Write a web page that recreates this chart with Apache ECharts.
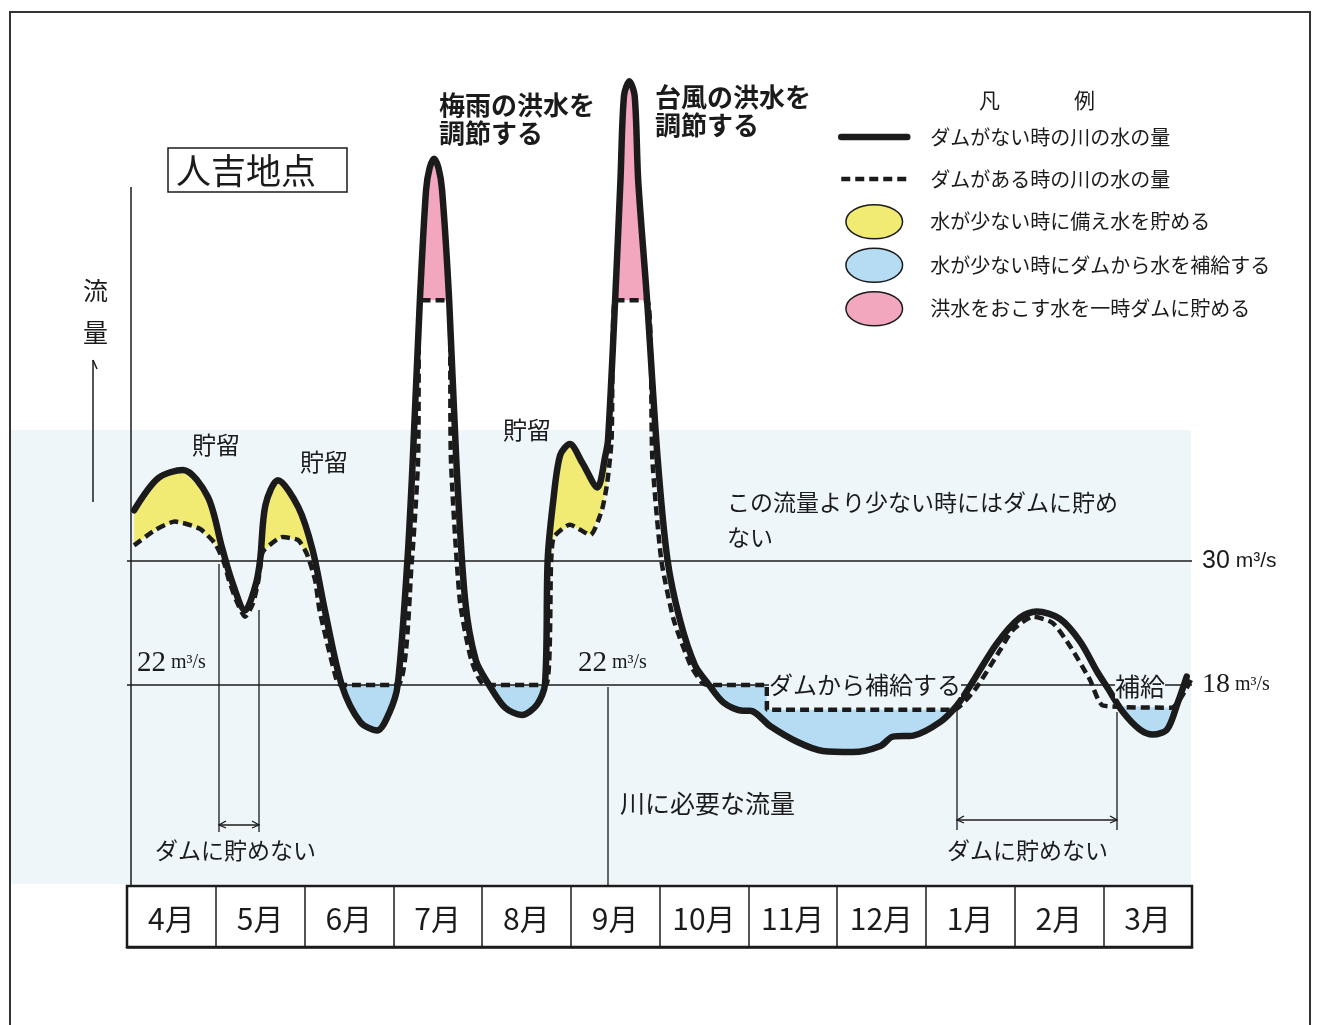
<!DOCTYPE html>
<html>
<head>
<meta charset="utf-8">
<script src="https://cdn.jsdelivr.net/npm/echarts@6/dist/echarts.min.js"></script>
<style>
  html, body { margin: 0; padding: 0; background: #fff; }
  #chart { width: 1319px; height: 1025px; }
</style>
</head>
<body>
<div id="chart"></div>
<script>
// 月の欄
const months = ['4月', '5月', '6月', '7月', '8月', '9月', '10月', '11月', '12月', '1月', '2月', '3月'];

// 横は4月始めからの月数、縦は流量（図から読み取った目安）
const noDam = [
  [0.08, 34.9], [0.35, 38.0], [0.63, 38.8], [0.91, 36.2], [1.07, 31.3], [1.18, 28.1], [1.33, 25.2],
  [1.45, 27.7], [1.50, 30.1], [1.56, 35.4], [1.70, 37.8], [1.93, 35.2], [2.09, 31.1], [2.23, 25.2],
  [2.42, 18.0], [2.63, 14.4], [2.82, 13.6], [2.96, 15.4], [3.05, 18.0], [3.16, 30.1], [3.22, 39.8],
  [3.30, 55.2], [3.37, 65.9], [3.41, 68.0], [3.46, 68.9], [3.51, 68.0], [3.55, 65.9], [3.63, 55.2],
  [3.71, 39.8], [3.81, 26.2], [3.93, 20.4], [4.08, 18.0], [4.26, 15.8], [4.45, 15.1], [4.62, 16.1],
  [4.71, 18.1], [4.74, 30.1], [4.80, 35.6], [4.88, 40.2], [4.99, 41.3], [5.13, 39.5], [5.30, 37.1],
  [5.39, 40.2], [5.42, 41.7], [5.50, 55.2], [5.56, 66.8], [5.60, 75.0], [5.66, 76.4], [5.72, 75.0],
  [5.76, 66.8], [5.86, 55.2], [5.98, 39.8], [6.09, 30.1], [6.23, 24.3], [6.40, 19.9], [6.54, 18.2],
  [6.72, 16.3], [6.94, 15.5], [7.02, 15.5], [7.25, 14.0], [7.55, 12.5], [7.84, 11.6], [8.18, 11.5],
  [8.49, 12.1], [8.63, 13.0], [8.86, 13.1], [9.16, 14.4], [9.35, 16.0], [9.50, 17.9], [9.80, 22.0],
  [10.06, 24.5], [10.25, 25.1], [10.51, 24.4], [10.74, 22.2], [10.93, 19.3], [11.05, 17.7], [11.22, 15.4],
  [11.41, 13.7], [11.56, 13.2], [11.72, 13.7], [11.84, 16.3], [11.94, 18.8]
];

const withDam = [
  [0.08, 31.5], [0.32, 33.0], [0.54, 33.8], [0.82, 33.1], [0.99, 31.7], [1.09, 29.9], [1.15, 28.1],
  [1.23, 26.2], [1.33, 24.6], [1.42, 25.9], [1.48, 28.1], [1.52, 30.6], [1.55, 31.1], [1.75, 32.3],
  [1.93, 32.0], [2.03, 30.6], [2.12, 28.1], [2.17, 25.2], [2.37, 18.2], [2.42, 18.0], [3.05, 18.0],
  [3.21, 30.1], [3.28, 39.8], [3.30, 55.2], [3.63, 55.2], [3.65, 39.8], [3.75, 26.2], [3.88, 20.4],
  [4.03, 18.0], [4.72, 18.0], [4.78, 30.1], [4.81, 32.3], [4.99, 33.5], [5.22, 32.5], [5.35, 34.9],
  [5.41, 37.5], [5.46, 41.7], [5.50, 55.2], [5.86, 55.2], [5.92, 39.8], [6.02, 30.1], [6.16, 24.3],
  [6.35, 19.9], [6.48, 18.2], [6.54, 18.0], [7.21, 18.0], [7.21, 15.6], [9.31, 15.6], [9.55, 17.5],
  [9.84, 21.4], [9.98, 23.3], [10.21, 24.6], [10.43, 24.0], [10.63, 21.7], [10.85, 18.5], [11.00, 16.0],
  [11.77, 15.8], [12.00, 18.7]
];

const upperLevel = 30;
const lowerLevel = 18;

// 色をぬる区間（月数）
const storeSpans = [[0.08, 1.09], [1.52, 2.05], [4.78, 5.41]];
const supplySpans = [[2.42, 3.05], [4.08, 4.71], [6.54, 9.31], [11.19, 11.83]];
const floodSpans = [[3.30, 3.63], [5.50, 5.86]];

const jp = '"Noto Sans CJK JP", sans-serif';
const serif = '"Liberation Serif", serif';
const ink = '#1b1b1b';
const yellow = '#f1ea73';
const blue = '#b5dcf3';
const pink = '#f2a7bf';
const tint = '#eef6fa';
const ellipse = 'path://M0,18A30,18,0,1,1,60,18A30,18,0,1,1,0,18Z';

// 折れ線上の値（直線補間）
function valueAt(curve, t) {
  for (let i = 1; i < curve.length; i++) {
    const a = curve[i - 1], b = curve[i];
    if (t >= a[0] && t <= b[0]) {
      if (b[0] === a[0]) return a[1];
      return a[1] + (b[1] - a[1]) * (t - a[0]) / (b[0] - a[0]);
    }
  }
  return t < curve[0][0] ? curve[0][1] : curve[curve.length - 1][1];
}

function piece(curve, t0, t1) {
  const pts = [[t0, valueAt(curve, t0)]];
  curve.forEach(function (p) { if (p[0] > t0 && p[0] < t1) pts.push(p); });
  pts.push([t1, valueAt(curve, t1)]);
  return pts;
}

function fillSeries(name, color, spans) {
  return {
    name: name,
    type: 'custom',
    z: 1,
    itemStyle: { color: color },
    data: spans,
    renderItem: function (params, api) {
      const t0 = api.value(0), t1 = api.value(1);
      const top = piece(noDam, t0, t1);
      const bottom = piece(withDam, t0, t1).reverse();
      const points = top.concat(bottom).map(function (p) { return api.coord(p); });
      return { type: 'polygon', shape: { points: points }, style: { fill: api.visual('color') } };
    }
  };
}

function txt(text, x, y, size, extra) {
  return {
    type: 'text', x: x, y: y, z: 20,
    style: Object.assign({
      text: text, fill: ink, fontSize: size, fontFamily: jp,
      align: 'left', verticalAlign: 'middle', textAlign: 'left', textVerticalAlign: 'middle'
    }, extra || {})
  };
}

function seg(points, width) {
  return { type: 'polyline', z: 15, shape: { points: points }, style: { stroke: ink, lineWidth: width || 1.3, fill: null } };
}

const chart = echarts.init(document.getElementById('chart'));

const option = {
  animation: false,
  backgroundColor: '#fff',
  textStyle: { fontFamily: jp },
  grid: [
    { left: 127, right: 127, top: 44, bottom: 154 },
    { left: 127, right: 127, top: 886, height: 61, show: true, backgroundColor: '#fff', borderColor: ink, borderWidth: 2.5 }
  ],
  xAxis: [
    { type: 'value', min: 0, max: 12, show: false },
    {
      gridIndex: 1, type: 'category', data: months,
      axisLine: { lineStyle: { color: ink, width: 2.5 } },
      axisTick: { show: false },
      splitLine: { show: true, interval: 0, lineStyle: { color: ink, width: 1.5 } },
      axisLabel: { inside: true, margin: 13, interval: 0, fontSize: 30, color: ink, fontFamily: jp }
    }
  ],
  yAxis: [
    { type: 'value', min: 0, max: 80, show: false },
    { gridIndex: 1, type: 'value', show: false }
  ],
  legend: {
    orient: 'vertical', left: 833, top: 115,
    itemWidth: 66, itemHeight: 34, itemGap: 8,
    selectedMode: false,
    textStyle: { fontFamily: jp, fontSize: 20, color: ink, lineHeight: 34, padding: [0, 0, 0, 18] },
    lineStyle: { width: 'inherit' },
    data: [
      { name: 'ダムがない時の川の水の量', itemStyle: { opacity: 0 } },
      { name: 'ダムがある時の川の水の量', itemStyle: { opacity: 0 } },
      { name: '水が少ない時に備え水を貯める', icon: ellipse, itemStyle: { borderColor: ink, borderWidth: 1.5 } },
      { name: '水が少ない時にダムから水を補給する', icon: ellipse, itemStyle: { borderColor: ink, borderWidth: 1.5 } },
      { name: '洪水をおこす水を一時ダムに貯める', icon: ellipse, itemStyle: { borderColor: ink, borderWidth: 1.5 } }
    ]
  },
  series: [
    fillSeries('水が少ない時に備え水を貯める', yellow, storeSpans),
    fillSeries('水が少ない時にダムから水を補給する', blue, supplySpans),
    fillSeries('洪水をおこす水を一時ダムに貯める', pink, floodSpans),
    {
      name: 'ダムがない時の川の水の量',
      type: 'line', data: noDam, symbol: 'none', smooth: 0.3, z: 3,
      itemStyle: { color: ink },
      lineStyle: { color: ink, width: 6.5, join: 'round', cap: 'round' },
      markLine: {
        silent: true, symbol: 'none',
        lineStyle: { color: ink, width: 1.5, type: 'solid' },
        label: {
          position: 'end', distance: 10,
          formatter: function (p) { return '{n|' + p.value + '}{u| m³/s}'; }
        },
        data: [
          { yAxis: upperLevel, label: { rich: { n: { fontSize: 25, fontFamily: 'Liberation Sans', color: ink }, u: { fontSize: 21, fontFamily: 'Liberation Sans', color: ink } } } },
          { yAxis: lowerLevel, label: { rich: { n: { fontSize: 28, fontFamily: serif, color: ink }, u: { fontSize: 20, fontFamily: serif, color: ink } } } }
        ]
      }
    },
    {
      name: 'ダムがある時の川の水の量',
      type: 'line', data: withDam, symbol: 'none', smooth: 0.2, z: 4,
      itemStyle: { color: ink },
      lineStyle: { color: ink, width: 4.5, type: [9, 5] }
    }
  ],
  graphic: [
    { type: 'rect', z: -5, shape: { x: 11, y: 430, width: 1180, height: 454 }, style: { fill: tint } },
    { type: 'rect', z: 0, shape: { x: 10, y: 12, width: 1300, height: 1100 }, style: { fill: null, stroke: '#333', lineWidth: 2 } },
    { type: 'rect', z: 10, shape: { x: 168, y: 148, width: 179, height: 44 }, style: { fill: '#fff', stroke: ink, lineWidth: 1.5 } },
    txt('人吉地点', 176, 171, 35),
    seg([[131, 187], [131, 885]], 1.5),
    txt('流', 83, 290, 25),
    txt('量', 83, 332, 25),
    seg([[93, 502], [93, 360]], 1.5),
    seg([[93, 360], [97, 369]], 1.5),
    txt('梅雨の洪水を', 439, 105, 26, { fontWeight: 'bold' }),
    txt('調節する', 439, 133, 26, { fontWeight: 'bold' }),
    txt('台風の洪水を', 655, 97, 26, { fontWeight: 'bold' }),
    txt('調節する', 655, 125, 26, { fontWeight: 'bold' }),
    txt('凡', 979, 100, 21),
    txt('例', 1074, 100, 21),
    txt('貯留', 192, 445, 24),
    txt('貯留', 300, 462, 24),
    txt('貯留', 503, 430, 24),
    txt('{a|22}{b| m³/s}', 137, 663, 28, { fontFamily: serif, rich: { a: { fontSize: 29, fontFamily: serif }, b: { fontSize: 20, fontFamily: serif } } }),
    txt('{a|22}{b| m³/s}', 578, 663, 28, { fontFamily: serif, rich: { a: { fontSize: 29, fontFamily: serif }, b: { fontSize: 20, fontFamily: serif } } }),
    txt('この流量より少ない時にはダムに貯め', 727, 502, 23),
    txt('ない', 727, 537, 23),
    txt('ダムから補給する', 769, 685, 24, { backgroundColor: tint }),
    txt('補給', 1115, 686, 25, { backgroundColor: tint }),
    txt('川に必要な流量', 620, 803, 25),
    txt('ダムに貯めない', 155, 850, 23),
    txt('ダムに貯めない', 947, 850, 23),
    seg([[219, 564], [219, 832]]),
    seg([[259, 610], [259, 832]]),
    seg([[219, 825], [259, 825]]),
    seg([[226, 821], [219, 825], [226, 828]]),
    seg([[252, 821], [259, 825], [252, 828]]),
    seg([[608, 687], [608, 885]]),
    seg([[957, 706], [957, 830]]),
    seg([[1117, 712], [1117, 830]]),
    seg([[957, 820], [1117, 820]]),
    seg([[964, 816], [957, 820], [964, 823]]),
    seg([[1110, 816], [1117, 820], [1110, 823]])
  ]
};

chart.setOption(option);
</script>
</body>
</html>
